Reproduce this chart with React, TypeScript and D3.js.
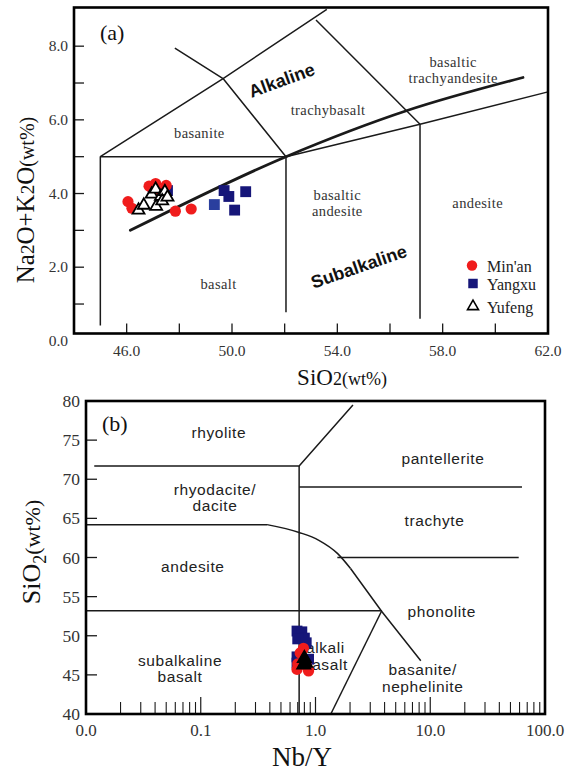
import React from "react";
import * as d3 from "d3";

const SERIF = "'Liberation Serif', 'Times New Roman', serif";
const SANS = "'Liberation Sans', Arial, sans-serif";

type Pt = [number, number];

// ---------- (a) total alkali vs silica ----------
const tasXLabels = [46, 50, 54, 58, 62];
const tasXTicks = [46, 48, 50, 52, 54, 56, 58, 60];
const tasYLabels = [0, 2, 4, 6, 8];
const tasYTicks = [1, 2, 3, 4, 5, 6, 7, 8];

const tasFieldLines: Pt[][] = [
  [[45, 0.42], [45, 5], [52.05, 5]],
  [[45, 5], [49.66, 7.12], [53.6, 9.0]],
  [[47.83, 7.95], [49.66, 7.12], [52.05, 5]],
  [[53.19, 8.71], [57.14, 5.88]],
  [[52.05, 0.78], [52.05, 5]],
  [[57.14, 0.6], [57.14, 5.88]],
  [[52.05, 5], [57.14, 5.88], [62, 6.76]],
];
const tasAlkalineDivide: Pt[] = [[46.14, 3.0], [52.05, 5.0], [56.68, 6.26], [61.05, 7.15]];

const tasFieldNames = [
  { lines: ["basanite"], x: 48.76, y: 5.63 },
  { lines: ["trachybasalt"], x: 53.65, y: 6.28 },
  { lines: ["basaltic", "trachyandesite"], x: 58.4, y: 7.36 },
  { lines: ["basaltic", "andesite"], x: 54.0, y: 3.75 },
  { lines: ["andesite"], x: 59.33, y: 3.73 },
  { lines: ["basalt"], x: 49.49, y: 1.54 },
];
const tasSeriesNames = [
  { text: "Alkaline", x: 51.89, y: 7.07, angle: -20 },
  { text: "Subalkaline", x: 54.82, y: 2.01, angle: -19 },
];

const minanTAS: Pt[] = [
  [46.05, 3.78], [46.2, 3.6], [46.85, 4.2], [47.1, 4.27], [47.5, 4.22],
  [47.3, 4.05], [47.85, 3.52], [48.45, 3.58],
];
const yangxuTAS: Pt[] = [
  [47.0, 4.18], [47.55, 4.08], [49.7, 4.08], [49.88, 3.92], [50.1, 3.55], [50.52, 4.05],
];
const yangxuTASLight: Pt[] = [[49.33, 3.7]];
const yufengTAS: Pt[] = [
  [46.45, 3.55], [46.65, 3.68], [47.12, 3.65], [46.95, 3.98], [47.1, 4.12],
  [47.3, 3.92], [47.45, 4.05], [47.35, 3.8], [47.55, 3.9],
];

// ---------- (b) SiO2 vs Nb/Y ----------
const nbyDecades = [0.01, 0.1, 1, 10, 100];
const nbyDecadeLabels = ["0.0", "0.1", "1.0", "10.0", "100.0"];
const nbyYLabels = [40, 45, 50, 55, 60, 65, 70, 75, 80];
const nbyYTicks = [45, 50, 55, 60, 65, 70, 75];

const nbyFieldLines: Pt[][] = [
  [[0.0118, 71.7], [0.72, 71.7], [2.12, 79.5]],
  [[0.72, 40], [0.72, 71.7]],
  [[0.72, 69.0], [63, 69.0]],
  [[0.01, 64.2], [0.378, 64.2]],
  [[2.02, 58.6], [3.78, 53.1], [8.27, 46.8]],
  [[1.55, 60], [59, 60]],
  [[0.01, 53.2], [3.78, 53.2]],
  [[1.36, 40], [3.78, 53.2]],
];
const nbyCurve: Pt[] = [[0.378, 64.2], [0.72, 63.2], [1.07, 62.2], [1.56, 60.5], [2.02, 58.6]];

const nbyFieldNames = [
  { lines: ["rhyolite"], x: 0.1437, y: 75.85 },
  { lines: ["pantellerite"], x: 12.9, y: 72.57 },
  { lines: ["rhyodacite/", "dacite"], x: 0.133, y: 67.63 },
  { lines: ["trachyte"], x: 10.9, y: 64.69 },
  { lines: ["andesite"], x: 0.0853, y: 58.74 },
  { lines: ["phonolite"], x: 12.6, y: 53.07 },
  { lines: ["subalkaline", "basalt"], x: 0.066, y: 45.78 },
  { lines: ["alkali", "basalt"], x: 1.22, y: 47.35 },
  { lines: ["basanite/", "nephelinite"], x: 8.6, y: 44.6 },
];

const minanNbY: Pt[] = [[0.785, 48.4], [0.735, 47.8], [0.69, 45.7], [0.87, 45.5], [0.70, 46.4], [0.83, 46.2]];
const yangxuNbY: Pt[] = [
  [0.69, 50.6], [0.76, 50.5], [0.80, 49.7], [0.70, 49.6], [0.83, 49.1],
  [0.69, 47.3], [0.69, 46.5], [0.87, 47.0],
];
const yufengNbY: Pt[] = [[0.80, 47.1], [0.82, 46.5], [0.79, 46.3]];

const RED = "#f01c1c";
const NAVY = "#161679";
const BLUE_LIGHT = "#2a3f9e";
const INK = "#1a1a1a";

export default function App() {
  // panel (a) geometry
  const ax = d3.scaleLinear().domain([44, 62]).range([74, 548]);
  const ay = d3.scaleLinear().domain([0.2, 9.05]).range([333.5, 7.5]);
  // panel (b) geometry
  const bx = d3.scaleLog().domain([0.01, 100]).range([86, 545]);
  const by = d3.scaleLinear().domain([40, 80]).range([714, 401]);

  const aLine = d3.line<Pt>().x((d) => ax(d[0])).y((d) => ay(d[1]));
  const aCurve = d3.line<Pt>().x((d) => ax(d[0])).y((d) => ay(d[1])).curve(d3.curveMonotoneX);
  const bLine = d3.line<Pt>().x((d) => bx(d[0])).y((d) => by(d[1]));
  const bCurve = d3.line<Pt>().x((d) => bx(d[0])).y((d) => by(d[1])).curve(d3.curveMonotoneX);

  const square = d3.symbol().type(d3.symbolSquare).size(118)();
  const triangle = d3.symbol().type(d3.symbolTriangle).size(62)();
  const triangleBig = d3.symbol().type(d3.symbolTriangle).size(80)();
  const legendSquare = d3.symbol().type(d3.symbolSquare).size(90)();
  const legendTriangle = d3.symbol().type(d3.symbolTriangle).size(52)();

  const bMinor: number[] = [];
  for (let d = 0.01; d < 100; d *= 10) {
    for (let k = 2; k <= 9; k++) bMinor.push(+(d * k).toPrecision(3));
  }

  const [ax0, ax1] = ax.range();
  const [ay0, ay1] = ay.range();
  const [bx0, bx1] = bx.range();
  const [by0, by1] = by.range();

  return (
    <svg width={581} height={774} style={{ display: "block", position: "absolute", left: 0, top: 0 }}>
      <rect width={581} height={774} fill="#fff" />

      {/* ================= panel (a) ================= */}
      <g>
        {tasFieldLines.map((pts, i) => (
          <path key={i} d={aLine(pts) || ""} fill="none" stroke={INK} strokeWidth={1.5} strokeLinejoin="round" />
        ))}
        <path d={aCurve(tasAlkalineDivide) || ""} fill="none" stroke={INK} strokeWidth={2.8} strokeLinecap="round" />

        {tasFieldNames.map((f, i) => (
          <text key={i} x={ax(f.x)} y={ay(f.y)} textAnchor="middle" fontFamily={SERIF} fontSize={14.5}
            letterSpacing={0.4} fill="#333">
            {f.lines.map((l, j) => (
              <tspan key={j} x={ax(f.x)} dy={j === 0 ? (-(f.lines.length - 1) * 8 + 5) : 16}>{l}</tspan>
            ))}
          </text>
        ))}
        {tasSeriesNames.map((s, i) => (
          <text key={i} transform={`translate(${ax(s.x)},${ay(s.y)}) rotate(${s.angle})`} textAnchor="middle"
            dy={6} fontFamily={SANS} fontWeight="bold" fontSize={18} fill="#111">{s.text}</text>
        ))}

        {/* points */}
        {yangxuTAS.map((d, i) => (
          <path key={i} d={square || ""} transform={`translate(${ax(d[0])},${ay(d[1])})`} fill={NAVY} />
        ))}
        {yangxuTASLight.map((d, i) => (
          <path key={i} d={square || ""} transform={`translate(${ax(d[0])},${ay(d[1])})`} fill={BLUE_LIGHT} />
        ))}
        {minanTAS.map((d, i) => (
          <circle key={i} cx={ax(d[0])} cy={ay(d[1])} r={5.6} fill={RED} />
        ))}
        {yufengTAS.map((d, i) => (
          <path key={i} d={triangle || ""} transform={`translate(${ax(d[0])},${ay(d[1])})`} fill="#fff"
            stroke="#000" strokeWidth={1.8} strokeLinejoin="miter" />
        ))}

        {/* frame, ticks */}
        {tasYTicks.map((t) => (
          <line key={t} x1={ax0} x2={ax0 + 10} y1={ay(t)} y2={ay(t)} stroke={INK} strokeWidth={1.3} />
        ))}
        {tasXTicks.map((t) => (
          <line key={t} x1={ax(t)} x2={ax(t)} y1={ay0} y2={ay0 - 10} stroke={INK} strokeWidth={1.3} />
        ))}
        <rect x={ax0} y={ay1} width={ax1 - ax0} height={ay0 - ay1} fill="none" stroke="#000" strokeWidth={2.6} />
        {tasYLabels.map((t) => (
          <text key={t} x={ax0 - 6} y={ay(t)} dy={5} textAnchor="end" fontFamily={SERIF} fontSize={15.5} fill="#333">
            {t.toFixed(1)}
          </text>
        ))}
        {tasXLabels.map((t) => (
          <text key={t} x={ax(t)} y={ay0 + 22} textAnchor="middle" fontFamily={SERIF} fontSize={15.5} fill="#333">
            {t.toFixed(1)}
          </text>
        ))}
        <text x={ax0 + 26} y={ay1 + 32} fontFamily={SERIF} fontSize={22} fill="#111">(a)</text>

        {/* legend */}
        <g fontFamily={SERIF} fontSize={16} fill="#222">
          <circle cx={ax1 - 76} cy={ay0 - 68} r={5.2} fill={RED} />
          <text x={ax1 - 61} y={ay0 - 62}>Min'an</text>
          <path d={legendSquare || ""} transform={`translate(${ax1 - 75},${ay0 - 50})`} fill={NAVY} />
          <text x={ax1 - 61} y={ay0 - 44}>Yangxu</text>
          <path d={legendTriangle || ""} transform={`translate(${ax1 - 75},${ay0 - 27})`} fill="#fff" stroke="#000"
            strokeWidth={1.6} />
          <text x={ax1 - 61} y={ay0 - 21}>Yufeng</text>
        </g>

        {/* axis titles */}
        <text transform="translate(34,200) rotate(-90)" textAnchor="middle" fontFamily={SERIF} fill="#111" fontSize={25}>
          Na<tspan fontSize={19}>2</tspan>O+K<tspan fontSize={19}>2</tspan>O<tspan fontSize={20}>(wt%)</tspan>
        </text>
        <text x={342} y={385} textAnchor="middle" fontFamily={SERIF} fill="#111" fontSize={23}>
          SiO<tspan fontSize={18}>2(wt%)</tspan>
        </text>
      </g>

      {/* ================= panel (b) ================= */}
      <g>
        {nbyFieldLines.map((pts, i) => (
          <path key={i} d={bLine(pts) || ""} fill="none" stroke={INK} strokeWidth={1.5} strokeLinejoin="round" />
        ))}
        <path d={bCurve(nbyCurve) || ""} fill="none" stroke={INK} strokeWidth={1.5} />

        {nbyFieldNames.map((f, i) => (
          <text key={i} x={bx(f.x)} y={by(f.y)} textAnchor="middle" fontFamily={SANS} fontSize={15.5}
            letterSpacing={0.6} fill="#222">
            {f.lines.map((l, j) => (
              <tspan key={j} x={bx(f.x)} dy={j === 0 ? (-(f.lines.length - 1) * 8 + 5) : 16.5}>{l}</tspan>
            ))}
          </text>
        ))}

        {yangxuNbY.map((d, i) => (
          <path key={i} d={square || ""} transform={`translate(${bx(d[0])},${by(d[1])})`} fill={NAVY} />
        ))}
        {minanNbY.map((d, i) => (
          <circle key={i} cx={bx(d[0])} cy={by(d[1])} r={5.6} fill={RED} />
        ))}
        {yufengNbY.map((d, i) => (
          <path key={i} d={triangleBig || ""} transform={`translate(${bx(d[0])},${by(d[1])})`} fill="#000"
            stroke="#000" strokeWidth={1.5} />
        ))}

        {nbyYTicks.map((t) => (
          <line key={t} x1={bx0} x2={bx0 + 11} y1={by(t)} y2={by(t)} stroke={INK} strokeWidth={1.3} />
        ))}
        {bMinor.map((t) => (
          <line key={t} x1={bx(t)} x2={bx(t)} y1={by0} y2={by0 - 12} stroke={INK} strokeWidth={1.1} />
        ))}
        {nbyDecades.slice(1, -1).map((t) => (
          <line key={t} x1={bx(t)} x2={bx(t)} y1={by0} y2={by0 - 17} stroke={INK} strokeWidth={1.2} />
        ))}
        <rect x={bx0} y={by1} width={bx1 - bx0} height={by0 - by1} fill="none" stroke="#000" strokeWidth={2.6} />

        {nbyYLabels.map((t) => (
          <text key={t} x={bx0 - 6} y={by(t)} dy={6} textAnchor="end" fontFamily={SERIF} fontSize={17.5} fill="#333">
            {t}
          </text>
        ))}
        {nbyDecades.map((t, i) => (
          <text key={t} x={bx(t)} y={by0 + 22} textAnchor="middle" fontFamily={SERIF} fontSize={17} fill="#333">
            {nbyDecadeLabels[i]}
          </text>
        ))}
        <text x={bx0 + 16} y={by1 + 30} fontFamily={SERIF} fontSize={22} fill="#111">(b)</text>

        <text transform="translate(40,552) rotate(-90)" textAnchor="middle" fontFamily={SERIF} fill="#111" fontSize={26}>
          SiO<tspan fontSize={18} dy={6}>2</tspan><tspan fontSize={22} dy={-6}>(wt%)</tspan>
        </text>
        <text x={302} y={766} textAnchor="middle" fontFamily={SERIF} fill="#111" fontSize={27}>Nb/Y</text>
      </g>
    </svg>
  );
}
